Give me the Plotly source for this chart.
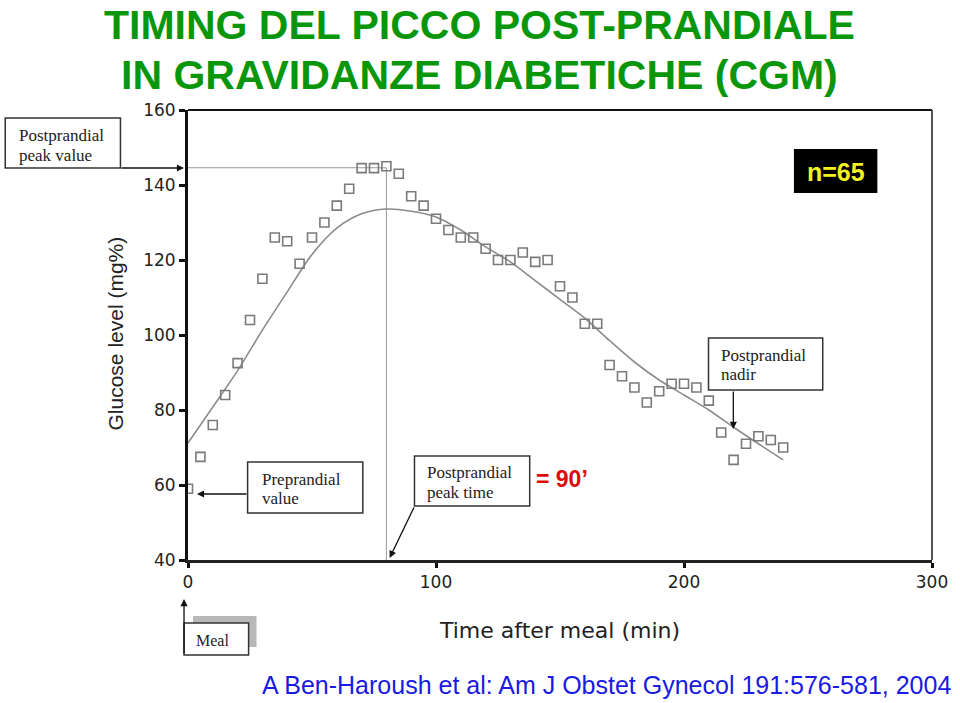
import plotly.graph_objects as go

# ---- data ----
times = [0, 5, 10, 15, 20, 25, 30, 35, 40, 45, 50, 55, 60, 65, 70, 75, 80, 85, 90, 95,
         100, 105, 110, 115, 120, 125, 130, 135, 140, 145, 150, 155, 160, 165, 170, 175,
         180, 185, 190, 195, 200, 205, 210, 215, 220, 225, 230, 235, 240]
glucose = [59, 67.5, 76, 84, 92.5, 104, 115, 126, 125, 119, 126, 130, 134.5, 139, 144.5,
           144.5, 145, 143, 137, 134.5, 131, 128, 126, 126, 123, 120, 120, 122, 119.5, 120,
           113, 110, 103, 103, 92, 89, 86, 82, 85, 87, 87, 86, 82.5, 74, 66.7, 71, 73, 72, 70]

curve_times = [0, 10, 20, 30, 40, 50, 60, 70, 80, 90, 100, 110, 120, 130, 140, 150, 160,
               170, 180, 190, 200, 210, 220, 230, 240]
curve_glucose = [71.2, 80.8, 90.5, 101.3, 111.5, 121.5, 128.5, 132.3, 133.6, 133, 131.5, 128,
                 123.5, 119.5, 114.5, 109.5, 104.5, 98.5, 92.8, 88, 84, 80, 75.4, 71, 66.7]

x_ticks = [0, 100, 200, 300]
y_ticks = [40, 60, 80, 100, 120, 140, 160]

title_lines = ["TIMING DEL PICCO POST-PRANDIALE", "IN GRAVIDANZE DIABETICHE (CGM)"]
citation = "A Ben-Haroush et al: Am J Obstet Gynecol 191:576-581, 2004"

# ---- layout geometry (pixels) ----
W, H = 960, 703
L, R, T, B = 188, 937, 110, 560


def px(xp):
    return (xp - L) / (R - L)


def py(yp):
    return (B - yp) / (B - T)


peak_i = max(range(len(glucose)), key=lambda i: glucose[i])
peak_t, peak_v = times[peak_i], glucose[peak_i]

fig = go.Figure()

# reference lines at the peak
fig.add_trace(go.Scatter(x=[0, peak_t, peak_t], y=[peak_v - 0.4, peak_v - 0.4, 40],
                         mode="lines", line=dict(color="#9a9a9a", width=1),
                         hoverinfo="skip", showlegend=False))
fig.add_trace(go.Scatter(x=curve_times, y=curve_glucose, mode="lines",
                         line=dict(color="#8c8c8c", width=1.6, shape="spline", smoothing=0.8),
                         showlegend=False))
fig.add_trace(go.Scatter(x=times, y=glucose, mode="markers",
                         marker=dict(symbol="square-open", size=9,
                                     line=dict(color="#7a7a7a", width=1.6),
                                     color="#7a7a7a"),
                         showlegend=False))

shapes = []
annotations = []

SERIF = "Liberation Serif"
SANS = "Liberation Sans"


def text_at(text, x, y, font, xanchor="center", yanchor="middle", **kw):
    annotations.append(dict(text=text, xref="paper", yref="paper", x=px(x), y=py(y),
                            xanchor=xanchor, yanchor=yanchor, showarrow=False,
                            font=font, **kw))


def box(x0, y0, x1, y1, lines, tx, ty_list, size=17):
    shapes.append(dict(type="rect", xref="paper", yref="paper",
                       x0=px(x0), x1=px(x1), y0=py(y0), y1=py(y1),
                       line=dict(color="#333333", width=1.5), fillcolor="white", layer="above"))
    for text, ty in zip(lines, ty_list):
        text_at(text, tx, ty, dict(family=SERIF, size=size, color="#222222"), xanchor="left")


def arrow(hx, hy, tx, ty):
    annotations.append(dict(text="", xref="paper", yref="paper", x=px(hx), y=py(hy),
                            ax=tx - hx, ay=ty - hy, axref="pixel", ayref="pixel",
                            showarrow=True, arrowhead=2, arrowsize=1.1, arrowwidth=1.3,
                            arrowcolor="#111111", standoff=0, startstandoff=0))


# boxes with labels
box(4, 118, 120, 168, ["Postprandial", "peak value"], 16, [135, 155])
arrow(184, 168, 120, 168)

box(248, 462, 364, 513, ["Preprandial", "value"], 260, [479, 498])
arrow(197, 494, 248, 494)

box(416, 456, 532, 506, ["Postprandial", "peak time"], 427, [472, 492])
arrow(391, 558, 416, 506)

box(712, 338, 827, 390, ["Postprandial", "nadir"], 723, [355, 374])
arrow(737, 429, 737, 390)

# meal box with shadow
shapes.append(dict(type="rect", xref="paper", yref="paper", x0=px(193), x1=px(257),
                   y0=py(616), y1=py(647), line=dict(width=0), fillcolor="#b8b8b8"))
shapes.append(dict(type="rect", xref="paper", yref="paper", x0=px(184), x1=px(249),
                   y0=py(623), y1=py(655), line=dict(color="#333333", width=1.5),
                   fillcolor="white"))
text_at("Meal", 213, 640, dict(family=SERIF, size=16, color="#222222"))
arrow(184, 599, 184, 655)

# n=65
shapes.append(dict(type="rect", xref="paper", yref="paper", x0=px(798), x1=px(882),
                   y0=py(149), y1=py(193), line=dict(width=0), fillcolor="black", layer="above"))
text_at("<b>n=65</b>", 840, 172, dict(family=SANS, size=25, color="#f2f222"))

# = 90'
text_at("<b>= 90’</b>", 536, 479, dict(family=SANS, size=23, color="#dd0a0a"), xanchor="left")

# title
for text, cy in zip(title_lines, [25, 75]):
    text_at(f"<b>{text}</b>", 481, cy, dict(family=SANS, size=41, color="#0a960a"),
            borderpad=0)

# citation
text_at(citation, 958, 685, dict(family=SANS, size=25, color="#1a1ae0"), xanchor="right")

# axis titles
text_at("Time after meal (min)", 562, 630, dict(family="DejaVu Sans", size=22, color="#222222"))
text_at("Glucose level (mg%)", 115, 333, dict(family=SANS, size=21, color="#222222"),
        textangle=-90)

# top and right borders
shapes.append(dict(type="line", xref="paper", yref="paper", x0=0, x1=1, y0=1, y1=1,
                   line=dict(color="#111111", width=2)))
shapes.append(dict(type="line", xref="paper", yref="paper", x0=1, x1=1, y0=0, y1=1,
                   line=dict(color="#555555", width=2)))

fig.update_layout(
    width=W, height=H,
    margin=dict(l=L, r=W - R, t=T, b=H - B),
    paper_bgcolor="white", plot_bgcolor="white",
    shapes=shapes, annotations=annotations,
    xaxis=dict(range=[0, 300], tickvals=x_ticks, ticks="outside", ticklen=5, tickwidth=3,
               tickcolor="#111111", showline=True, linecolor="#222222", linewidth=3,
               showgrid=False, zeroline=False,
               tickfont=dict(family="DejaVu Sans", size=17, color="#222222")),
    yaxis=dict(range=[40, 160], tickvals=y_ticks, ticks="outside", ticklen=6, tickwidth=3,
               tickcolor="#111111", showline=True, linecolor="#111111", linewidth=3,
               showgrid=False, zeroline=False,
               tickfont=dict(family="DejaVu Sans", size=17, color="#222222")),
)

fig.write_html("out.html")
